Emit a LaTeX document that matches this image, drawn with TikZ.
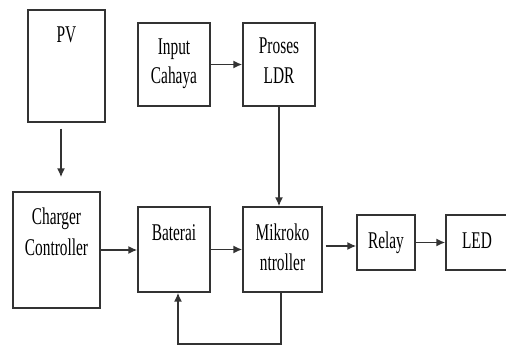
\documentclass[tikz,border=0pt]{standalone}
\usepackage{fontspec}
\newfontfamily\lblfont[FakeStretch=0.64]{Liberation Serif}
\usetikzlibrary{arrows.meta}
\definecolor{ln}{HTML}{333333}
\begin{document}
\begin{tikzpicture}[x=1pt,y=-1pt,
  box/.style={draw=ln,line width=1.3pt,rectangle,inner sep=0pt},
  lbl/.style={anchor=base,inner sep=0pt,font=\lblfont\fontsize{24}{24}\selectfont,text=black},
  arr/.style={draw=ln,line width=1.7pt,-{Latex[length=9pt,width=8pt]}}]
\useasboundingbox (0,0) rectangle (506,345);
% boxes
\node[box,minimum width=77pt,minimum height=112pt] (pv) at (66.5,66) {};
\node[box,minimum width=72pt,minimum height=83pt] (ic) at (174,64.5) {};
\node[box,minimum width=72pt,minimum height=83pt] (ldr) at (279,64.5) {};
\node[box,minimum width=87pt,minimum height=116pt] (cc) at (56.5,250) {};
\node[box,minimum width=72pt,minimum height=85pt] (bt) at (174,249.5) {};
\node[box,minimum width=79pt,minimum height=85pt] (mk) at (282.5,249.5) {};
\node[box,minimum width=58pt,minimum height=55pt] (rl) at (386,242.5) {};
\node[box,minimum width=80pt,minimum height=55pt] (led) at (486,242.5) {};
% labels
\node[lbl] (tpv) at (66.5,43) {PV};
\node[lbl] (tic1) at (174,55) {Input};
\node[lbl] (tic2) at (174,83) {Cahaya};
\node[lbl] (tldr1) at (279,54) {Proses};
\node[lbl] (tldr2) at (279,84) {LDR};
\node[lbl] (tcc1) at (56.5,224) {Charger};
\node[lbl] (tcc2) at (56.5,255) {Controller};
\node[lbl] (tbt) at (174,240) {Baterai};
\node[lbl] (tmk1) at (282.5,240) {Mikroko};
\node[lbl] (tmk2) at (282.5,270) {ntroller};
\node[lbl] (trl) at (386,248) {Relay};
\node[lbl] (tled) at (477,248) {LED};
% connectors
\draw[arr] ([xshift=-5.5pt,yshift=-6pt]pv.south) -- ([xshift=4.5pt,yshift=14pt]cc.north);
\draw[arr] (ic.east) -- (ldr.west);
\draw[arr] (ldr.south) -- (ldr.south |- mk.north);
\draw[arr] (cc.east) -- (cc.east -| bt.west);
\draw[arr] (bt.east) -- (mk.west);
\draw[arr] ([xshift=3pt,yshift=-3.5pt]rl.west -| mk.east) -- ([yshift=-3.5pt]rl.west);
\draw[arr] (rl.east) -- (led.west);
\draw[arr] ([xshift=-1.5pt]mk.south) -- ++(0,51) -| ([xshift=4pt]bt.south);
\end{tikzpicture}
\end{document}
